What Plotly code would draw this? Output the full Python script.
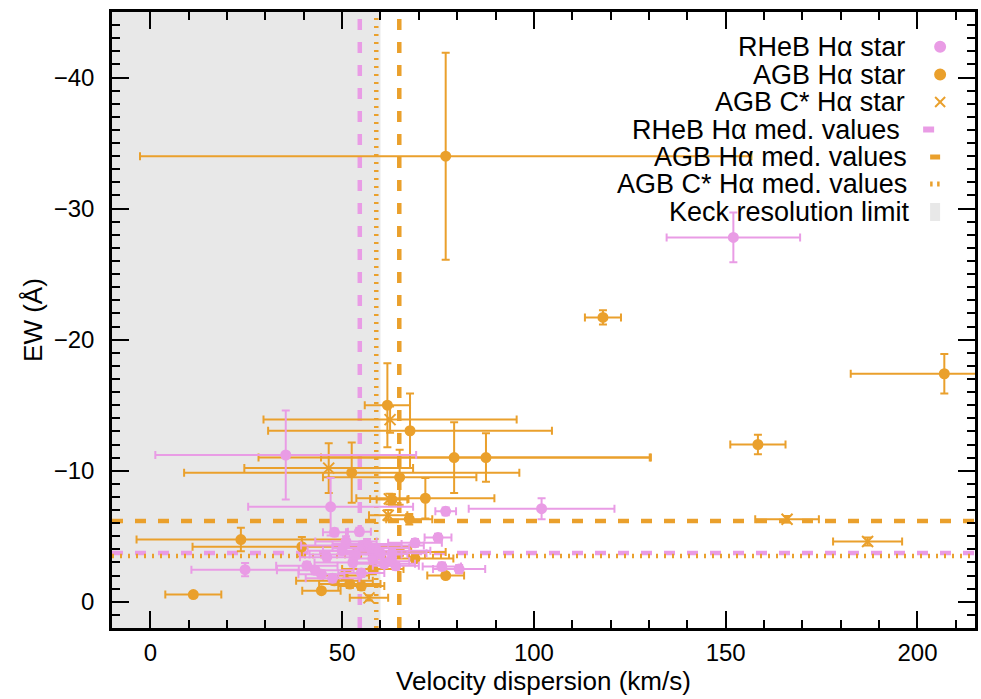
import plotly.graph_objects as go

# ---------------- data ----------------
# RHeB H-alpha stars: velocity dispersion, EW, errors
rheb_sigma = [152.0, 35.3, 47.0, 102.0, 77.0, 75.0, 24.7, 48.0, 54.5, 80.5, 76.0, 69.0,
              55.3, 50.0, 60.0, 40.8, 47.5, 44.6, 52.8, 64.0, 61.0, 43.0, 56.5, 58.0, 62.5, 53.5,
              51.0, 57.5, 59.0, 46.0, 63.0, 55.0]
rheb_ew = [-27.8, -11.2, -7.25, -7.1, -6.9, -4.9, -2.45, -5.3, -5.35, -2.5, -2.7, -4.5,
           -4.3, -3.9, -3.65, -2.75, -1.8, -2.1, -3.0, -2.75, -2.9, -2.4, -4.4, -3.3, -3.1, -3.6,
           -4.6, -4.1, -3.9, -3.4, -3.7, -2.2]
rheb_sigma_err = [17.4, 34.0, 21.5, 19.0, 2.7, 3.5, 14.0, 3.0, 3.0, 6.8, 5.0, 7.0,
                  16.0, 9.0, 7.0, 8.0, 7.0, 6.0, 10.0, 6.0, 8.0, 10.0, 9.0, 6.0, 5.0, 12.0,
                  8.0, 10.0, 14.0, 7.0, 9.0, 6.0]
rheb_ew_err = [1.9, 3.4, 2.2, 0.8, 0.3, 0.3, 0.5, 0.3, 0.3, 0.3, 0.3, 0.3,
               0.3, 0.3, 0.3, 0.3, 0.3, 0.3, 0.3, 0.3, 0.3, 0.3, 0.4, 0.3, 0.3, 0.3,
               0.4, 0.3, 0.3, 0.3, 0.3, 0.3]

# AGB H-alpha stars
agb_sigma = [77.0, 118.0, 207.0, 158.4, 61.8, 67.7, 79.2, 87.5, 52.5, 65.0, 71.7, 67.5,
             23.6, 39.5, 11.2, 77.0, 44.6, 52.0, 55.0, 69.0, 65.0, 48.0, 58.0, 63.0]
agb_ew = [-34.0, -21.7, -17.4, -12.0, -15.0, -13.05, -11.0, -11.0, -9.85, -9.5, -7.9, -6.3,
          -4.75, -4.2, -0.55, -2.0, -0.85, -1.35, -1.2, -3.3, -3.8, -1.6, -2.5, -7.8]
agb_sigma_err = [79.7, 4.7, 24.4, 7.2, 5.9, 37.0, 51.0, 43.0, 43.7, 20.0, 18.0, 6.0,
                 27.2, 28.5, 7.3, 4.8, 5.0, 8.0, 6.0, 10.0, 12.0, 10.0, 8.0, 4.0]
agb_ew_err = [7.9, 0.55, 1.5, 0.75, 3.2, 2.85, 2.7, 1.85, 2.3, 2.1, 1.55, 0.4,
              0.9, 0.75, 0.2, 0.2, 0.2, 0.3, 0.3, 0.3, 0.3, 0.3, 0.4, 0.4]

# AGB C* H-alpha stars
agbc_sigma = [187.0, 166.0, 62.5, 46.5, 62.3, 62.0, 57.0, 51.0]
agbc_ew = [-4.6, -6.3, -13.9, -10.2, -7.85, -6.6, -0.3, -2.0]
agbc_sigma_err = [9.0, 8.3, 33.0, 22.0, 5.0, 5.0, 5.0, 6.0]
agbc_ew_err = [0.3, 0.25, 1.0, 1.9, 0.4, 0.4, 0.2, 0.3]

# median values
rheb_med_sigma, rheb_med_ew = 54.6, -3.72
agb_med_sigma, agb_med_ew = 64.9, -6.16
agbc_med_sigma, agbc_med_ew = 58.9, -3.5
keck_limit = 60.0

x_range = [-10, 215]
y_range = [2, -45]
x_ticks = [0, 50, 100, 150, 200]
y_ticks = [0, -10, -20, -30, -40]

legend_labels = ["RHeB H\u03b1 star", "AGB H\u03b1 star", "AGB C* H\u03b1 star",
                 "RHeB H\u03b1 med. values", "AGB H\u03b1 med. values",
                 "AGB C* H\u03b1 med. values", "Keck resolution limit"]

# ---------------- style ----------------
PINK = "#E99CE5"
ORANGE = "#EAA02C"
GREY = "#E8E8E8"
FONT = "Liberation Sans, Arial, Helvetica, sans-serif"
W, H = 981, 699
ML, MR, MT, MB = 112, 3, 12, 71

fig = go.Figure()

# background shading and median lines
fig.add_shape(type="rect", xref="x", yref="y domain", x0=x_range[0], x1=keck_limit, y0=0, y1=1,
              fillcolor=GREY, line=dict(width=0), layer="below")
for xv, col, dash in [(rheb_med_sigma, PINK, "11px,12px"), (agbc_med_sigma, ORANGE, "2px,6px"),
                      (agb_med_sigma, ORANGE, "11px,12px")]:
    fig.add_shape(type="line", xref="x", yref="y domain", x0=xv, x1=xv, y0=0, y1=1,
                  line=dict(color=col, width=4.5, dash=dash), layer="below")
for yv, col, dash in [(rheb_med_ew, PINK, "11px,12px"), (agbc_med_ew, ORANGE, "2px,6px"),
                      (agb_med_ew, ORANGE, "11px,12px")]:
    fig.add_shape(type="line", xref="x domain", yref="y", x0=0, x1=1, y0=yv, y1=yv,
                  line=dict(color=col, width=4.5, dash=dash), layer="below")


def add_series(x, y, xe, ye, color, symbol, size):
    fig.add_trace(go.Scatter(
        x=x, y=y, mode="markers", showlegend=False,
        marker=dict(color=color, symbol=symbol, size=size, line=dict(color=color, width=2)),
        error_x=dict(type="data", array=xe, color=color, thickness=2, width=4),
        error_y=dict(type="data", array=ye, color=color, thickness=2, width=4),
    ))


add_series(agb_sigma, agb_ew, agb_sigma_err, agb_ew_err, ORANGE, "circle", 9)
add_series(agbc_sigma, agbc_ew, agbc_sigma_err, agbc_ew_err, ORANGE, "x-thin", 11)
add_series(rheb_sigma, rheb_ew, rheb_sigma_err, rheb_ew_err, PINK, "circle", 9)

# ---------------- manual legend (text right, symbol right of text) ----------------
def px2paper(px, py):
    return (px - ML) / (W - ML - MR), 1 - (py - MT) / (H - MT - MB)

row_y = [46.7, 74.5, 102.0, 129.5, 157.0, 184.0, 212.0]
text_right = [910, 910, 910, 905, 912, 912, 915]
for lab, ry, tr in zip(legend_labels, row_y, text_right):
    ax, ay = px2paper(tr, ry)
    fig.add_annotation(xref="paper", yref="paper", x=ax, y=ay, text=lab, showarrow=False,
                       xanchor="right", yanchor="middle", font=dict(size=27, color="black", family=FONT))

sx = 943
for i, col in enumerate([PINK, ORANGE]):
    cx, cy = px2paper(sx, row_y[i])
    fig.add_shape(type="circle", xref="paper", yref="paper", xsizemode="pixel", ysizemode="pixel",
                  xanchor=cx, yanchor=cy, x0=-6, x1=6, y0=-6, y1=6,
                  fillcolor=col, line=dict(width=0))
cx, cy = px2paper(sx, row_y[2])
for sgn in (1, -1):
    fig.add_shape(type="line", xref="paper", yref="paper", xsizemode="pixel", ysizemode="pixel",
                  xanchor=cx, yanchor=cy, x0=-5, x1=5, y0=-5 * sgn, y1=5 * sgn,
                  line=dict(color=ORANGE, width=2))
for i, col, x0, x1, hh in [(3, PINK, -17, -6, 3), (4, ORANGE, -10, 0, 2.5)]:
    cx, cy = px2paper(sx, row_y[i])
    fig.add_shape(type="rect", xref="paper", yref="paper", xsizemode="pixel", ysizemode="pixel",
                  xanchor=cx, yanchor=cy, x0=x0, x1=x1, y0=-hh, y1=hh,
                  fillcolor=col, line=dict(width=0))
cx, cy = px2paper(sx, row_y[5])
for x0 in (-10, -3):
    fig.add_shape(type="rect", xref="paper", yref="paper", xsizemode="pixel", ysizemode="pixel",
                  xanchor=cx, yanchor=cy, x0=x0, x1=x0 + 2.5, y0=-2.5, y1=2.5,
                  fillcolor=ORANGE, line=dict(width=0))
cx, cy = px2paper(sx, row_y[6])
fig.add_shape(type="rect", xref="paper", yref="paper", xsizemode="pixel", ysizemode="pixel",
              xanchor=cx, yanchor=cy, x0=-10, x1=0, y0=-9, y1=9,
              fillcolor=GREY, line=dict(width=0))

axis_common = dict(
    showline=True, linecolor="black", linewidth=2.5, mirror="allticks",
    ticks="inside", ticklen=17, tickwidth=2, tickcolor="black",
    showgrid=False, zeroline=False,
    tickfont=dict(size=24, color="black", family=FONT),
)
fig.update_xaxes(range=x_range, tickvals=x_ticks,
                 minor=dict(dtick=10, tick0=0, ticks="inside", ticklen=8, tickwidth=2, tickcolor="black"),
                 title=dict(text="Velocity dispersion (km/s)", font=dict(size=26, color="black", family=FONT),
                            standoff=4),
                 ticklabelstandoff=1, **axis_common)
fig.update_yaxes(range=y_range, tickvals=y_ticks,
                 minor=dict(dtick=1, tick0=0, ticks="inside", ticklen=8, tickwidth=2, tickcolor="black"),
                 title=dict(text="EW (\u00c5)", font=dict(size=26, color="black", family=FONT),
                            standoff=4),
                 ticklabelstandoff=10, **axis_common)

fig.update_layout(
    width=W, height=H, margin=dict(l=ML, r=MR, t=MT, b=MB),
    plot_bgcolor="white", paper_bgcolor="white",
    font=dict(family=FONT, color="black"),
    showlegend=False,
)

fig.write_html("out.html")
